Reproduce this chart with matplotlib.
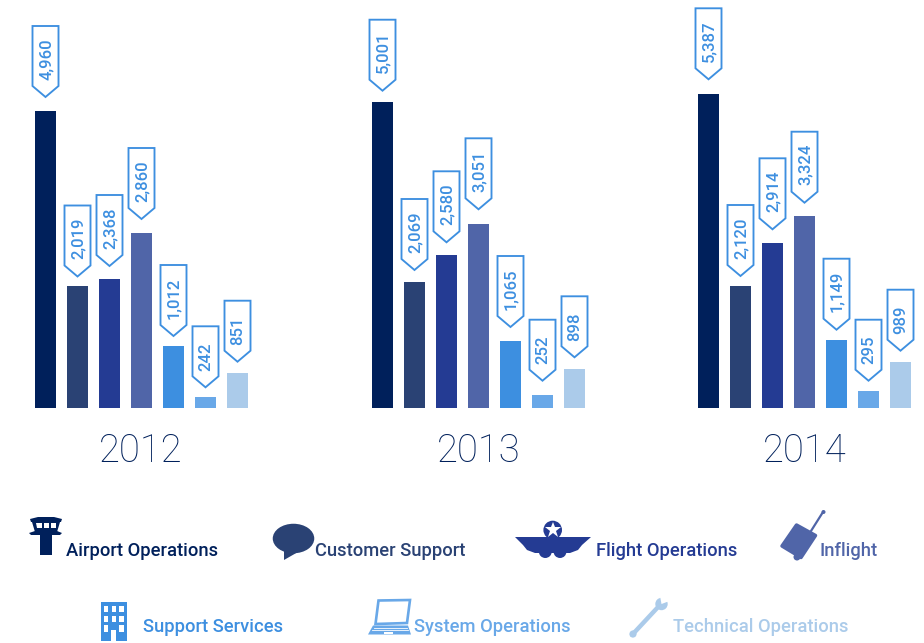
import matplotlib
matplotlib.use('Agg')
import matplotlib.pyplot as plt
import matplotlib.transforms as mtransforms
from matplotlib.patches import Polygon, Circle, Ellipse, Rectangle, PathPatch
from matplotlib.path import Path

plt.rcParams['font.family'] = ['Roboto', 'DejaVu Sans']

years = ['2012', '2013', '2014']
departments = ['Airport Operations', 'Customer Support', 'Flight Operations', 'Inflight',
               'Support Services', 'System Operations', 'Technical Operations']
colors = ['#00205B', '#2A4274', '#243B93', '#5065A8', '#3D8FE0', '#69A8E8', '#ABCBEA']

# printed labels
labels_2012 = [4960, 2019, 2368, 2860, 1012, 242, 851]
labels_2013 = [5001, 2069, 2580, 3051, 1065, 252, 898]
labels_2014 = [5387, 2120, 2914, 3324, 1149, 295, 989]
all_labels = [labels_2012, labels_2013, labels_2014]

# bars as drawn in the picture, not quite to scale with the labels
heights_2012 = [297, 122, 129, 175, 62, 11, 35]
heights_2013 = [306, 126, 153, 184, 67, 13, 39]
heights_2014 = [314, 122, 165, 192, 68, 17, 46]
all_heights = [heights_2012, heights_2013, heights_2014]

# space between bar top and callout tip
gaps = [[14, 9.5, 13, 14, 10, 9.7, 11.3],
        [11.3, 12, 12.7, 14.7, 14, 14.3, 11.7],
        [14.7, 10, 13.7, 13.3, 10.3, 10.3, 11.3]]

W, H = 924, 643
BASE = 408
panel_left = [35, 372, 698]
year_x = [141, 479, 805]
callout_color = '#3D8FE0'

fig = plt.figure(figsize=(W / 100, H / 100), dpi=100)

# pixel overlay for year labels and the legend icons
ov = fig.add_axes([0, 0, 1, 1])
ov.set_xlim(0, W)
ov.set_ylim(H, 0)
ov.axis('off')


def callout_path(tall):
    return Path([(-13, 11), (0, 0), (13, 11), (13, tall), (-13, tall), (-13, 11)], closed=True)


for left, labels, heights, gap in zip(panel_left, all_labels, all_heights, gaps):
    ax = fig.add_axes([left / W, (H - BASE) / H, 213 / W, 400 / H])
    ax.set_xlim(-21 / 64, 6 + 21 / 64)
    ax.set_ylim(0, 400)
    ax.axis('off')
    ax.bar(range(len(heights)), heights, width=21 / 32, color=colors)
    for i, (lab, h, g) in enumerate(zip(labels, heights, gap)):
        trans = mtransforms.Affine2D().translate(0, g) + mtransforms.ScaledTranslation(i, h, ax.transData)
        short = lab < 1000
        ax.add_patch(PathPatch(callout_path(61 if short else 71), transform=trans, facecolor='white',
                               edgecolor=callout_color, lw=1.35, clip_on=False, zorder=3))
        ax.text(0.5, 31 if short else 38, f'{lab:,}', transform=trans, rotation=90,
                ha='center', va='center', color=callout_color, fontsize=12, fontweight='medium',
                clip_on=False, zorder=4)

for x, y in zip(year_x, years):
    ov.text(x, 451, y, ha='center', va='center', fontsize=27.5, color='#00205B', fontweight='light')

# legend labels
label_x = [66, 315, 596, 819.5, 143, 414, 673]
label_y = [550.5, 550.5, 550.5, 550.5, 627.5, 627.5, 627.5]
for name, x, y, c in zip(departments, label_x, label_y, colors):
    ov.text(x, y, name, ha='left', va='center', fontsize=13.2, color=c, fontweight='medium')

# tower
c = colors[0]
ov.add_patch(Polygon([(30, 519), (38, 517), (54, 517), (62, 519), (61, 522), (31, 522)], color=c, lw=0))
ov.add_patch(Polygon([(32, 522), (60, 522), (57, 532), (35, 532)], color=c, lw=0))
for wx in [(36, 42), (43.5, 49), (50.5, 56)]:
    ov.add_patch(Polygon([(wx[0], 523), (wx[1], 523), (wx[1], 527.5), (wx[0] + 0.8, 527.5)], color='white', lw=0))
ov.add_patch(Polygon([(29, 533), (35, 531), (57, 531), (62, 533), (60, 535), (31, 535)], color=c, lw=0))
ov.add_patch(Rectangle((40, 535), 12, 19.5, color=c, lw=0))

# speech bubble
c = colors[1]
ov.add_patch(Ellipse((293.5, 538.5), 41.5, 29.5, color=c, lw=0))
ov.add_patch(Polygon([(284, 548), (284, 560), (298, 552)], color=c, lw=0))

# wings
c = colors[2]
ov.add_patch(Circle((552.7, 530), 9.3, color=c, lw=0))
ov.plot(552.7, 530, marker='*', color='white', ms=12, mew=0)
ov.add_patch(Polygon([(515, 537), (591, 537), (582, 545), (578, 550), (570, 553), (535, 553),
                      (527, 550), (523, 545)], color=c, lw=0))
for cx, cy, r in [(545.3, 551.5, 6.5), (560, 551.5, 6.5)]:
    ov.add_patch(Circle((cx, cy), r, color=c, lw=0))

# suitcase
c = colors[3]
ov.add_patch(Polygon([(796.5, 525), (815.5, 535.5), (801, 557.5), (782, 546)], color=c, lw=2.5, joinstyle='round'))
ov.plot([811, 823], [531, 512], color=c, lw=1.6, solid_capstyle='round')
ov.add_patch(Circle((823.5, 512), 2, color=c, lw=0))
ov.add_patch(Circle((797, 557), 3.5, color=c, lw=0))

# building
c = colors[4]
ov.add_patch(Rectangle((100.7, 601.7), 26, 39.3, color=c, lw=0))
for wx in [103.7, 111.7, 119.3]:
    for wy in [605.7, 615.7]:
        ov.add_patch(Rectangle((wx, wy), 4.6, 6.6, color='white', lw=0))
for wx in [103.7, 119.3]:
    ov.add_patch(Rectangle((wx, 625.3), 4.6, 6.6, color='white', lw=0))
ov.add_patch(Rectangle((111, 630), 5, 11, color='white', lw=0))

# laptop
c = colors[5]
ov.add_patch(Polygon([(378.5, 600.5), (410, 600), (407, 623), (375.5, 624)], closed=True,
                     facecolor='white', edgecolor=c, lw=1.9))
ov.add_patch(Polygon([(373, 625.5), (408, 625.5), (411, 634.5), (368, 634.5)], color=c, lw=0))
ov.plot([374, 407], [628, 628], color='white', lw=0.6)
ov.plot([372, 408], [630, 630], color='white', lw=0.6)
ov.add_patch(Rectangle((384, 632), 9, 1.6, color='white', lw=0))

# wrench
c = colors[6]
ov.plot([632, 659], [635, 606], color=c, lw=3.2, solid_capstyle='round')
ov.add_patch(Circle((633, 634), 3.6, color=c, lw=0))
ov.add_patch(Circle((633, 634), 1.5, color='white', lw=0))
ov.add_patch(Circle((661.5, 604), 6.2, color=c, lw=0))
ov.add_patch(Polygon([(661.5, 604), (660, 596), (666, 596), (669.5, 601)], color='white', lw=0))

fig.savefig('out.png', dpi=100)
